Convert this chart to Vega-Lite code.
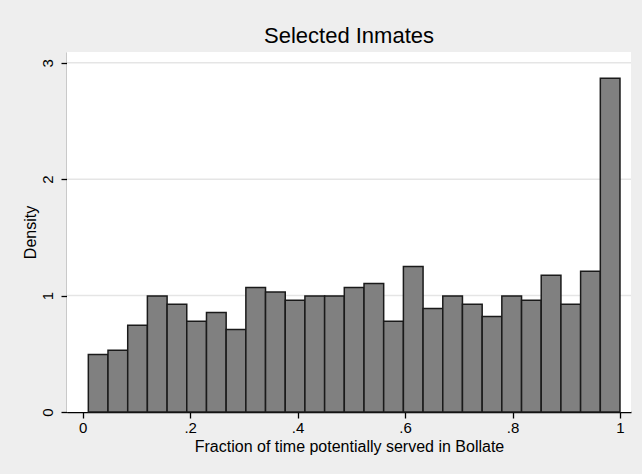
{
  "$schema": "https://vega.github.io/schema/vega-lite/v6.json",
  "autosize": {"type": "none"},
  "padding": {"left": 67, "top": 52, "right": 11, "bottom": 62},
  "width": 564,
  "height": 360,
  "background": "#eeeeee",
  "title": {
    "text": "Selected Inmates",
    "font": "Liberation Sans",
    "fontSize": 22,
    "fontWeight": "normal",
    "color": "#000000",
    "anchor": "middle",
    "baseline": "alphabetic",
    "offset": -13
  },
  "config": {
    "view": {"stroke": null},
    "axis": {
      "labelFont": "Liberation Sans",
      "titleFont": "Liberation Sans",
      "labelColor": "#000000",
      "titleColor": "#000000",
      "titleFontWeight": "normal",
      "domainColor": "#000000",
      "tickColor": "#000000",
      "domainWidth": 1.3,
      "tickWidth": 1.3
    }
  },
  "datasets": {
    "bins": [
      {"x0": 0.0105, "x1": 0.0471, "density": 0.494},
      {"x0": 0.0471, "x1": 0.0838, "density": 0.531},
      {"x0": 0.0838, "x1": 0.1204, "density": 0.746},
      {"x0": 0.1204, "x1": 0.1571, "density": 0.997},
      {"x0": 0.1571, "x1": 0.1937, "density": 0.926},
      {"x0": 0.1937, "x1": 0.2304, "density": 0.780},
      {"x0": 0.2304, "x1": 0.2670, "density": 0.854},
      {"x0": 0.2670, "x1": 0.3037, "density": 0.709},
      {"x0": 0.3037, "x1": 0.3403, "density": 1.069},
      {"x0": 0.3403, "x1": 0.3770, "density": 1.031},
      {"x0": 0.3770, "x1": 0.4136, "density": 0.960},
      {"x0": 0.4136, "x1": 0.4503, "density": 0.997},
      {"x0": 0.4503, "x1": 0.4869, "density": 0.997},
      {"x0": 0.4869, "x1": 0.5236, "density": 1.069},
      {"x0": 0.5236, "x1": 0.5602, "density": 1.103},
      {"x0": 0.5602, "x1": 0.5969, "density": 0.780},
      {"x0": 0.5969, "x1": 0.6335, "density": 1.249},
      {"x0": 0.6335, "x1": 0.6702, "density": 0.889},
      {"x0": 0.6702, "x1": 0.7068, "density": 0.997},
      {"x0": 0.7068, "x1": 0.7435, "density": 0.926},
      {"x0": 0.7435, "x1": 0.7801, "density": 0.820},
      {"x0": 0.7801, "x1": 0.8168, "density": 0.997},
      {"x0": 0.8168, "x1": 0.8534, "density": 0.960},
      {"x0": 0.8534, "x1": 0.8901, "density": 1.174},
      {"x0": 0.8901, "x1": 0.9267, "density": 0.926},
      {"x0": 0.9267, "x1": 0.9634, "density": 1.209},
      {"x0": 0.9634, "x1": 1.0000, "density": 2.867}
    ],
    "grid": [{"g": 1}, {"g": 2}, {"g": 3}]
  },
  "layer": [
    {
      "data": {"values": [{}]},
      "mark": {"type": "rect", "fill": "#ffffff", "strokeWidth": 0},
      "encoding": {
        "x": {"datum": -0.0292, "type": "quantitative", "scale": {"domain": [-0.0292, 1.0205], "nice": false, "zero": false}},
        "x2": {"datum": 1.0205},
        "y": {"datum": 0, "type": "quantitative", "scale": {"domain": [0, 3.092], "nice": false}},
        "y2": {"datum": 3.092}
      }
    },
    {
      "data": {"name": "grid"},
      "mark": {"type": "rule", "stroke": "#e5e5e5", "strokeWidth": 1.5},
      "encoding": {
        "y": {"field": "g", "type": "quantitative"}
      }
    },
    {
      "data": {"name": "bins"},
      "mark": {"type": "rect", "fill": "#808080", "stroke": "#1a1a1a", "strokeWidth": 1.5},
      "encoding": {
        "x": {
          "field": "x0",
          "type": "quantitative",
          "scale": {"domain": [-0.0292, 1.0205], "nice": false, "zero": false},
          "axis": {
            "title": "Fraction of time potentially served in Bollate",
            "titleFontSize": 16,
            "titlePadding": 3,
            "labelFontSize": 15,
            "labelPadding": 2,
            "tickSize": 6,
            "values": [0, 0.2, 0.4, 0.6, 0.8, 1],
            "labelExpr": "replace(format(datum.value, '~g'), '0.', '.')",
            "grid": false,
            "labelFlush": false
          }
        },
        "x2": {"field": "x1"},
        "y": {
          "field": "density",
          "type": "quantitative",
          "scale": {"domain": [0, 3.092], "nice": false},
          "axis": {
            "title": "Density",
            "titleFontSize": 16,
            "titlePadding": 2,
            "labelFontSize": 15,
            "labelAngle": -90,
            "labelAlign": "center",
            "labelBaseline": "bottom",
            "labelPadding": 6,
            "tickSize": 6,
            "values": [0, 1, 2, 3],
            "format": "d",
            "grid": false,
            "labelFlush": false
          }
        },
        "y2": {"datum": 0}
      }
    }
  ]
}
